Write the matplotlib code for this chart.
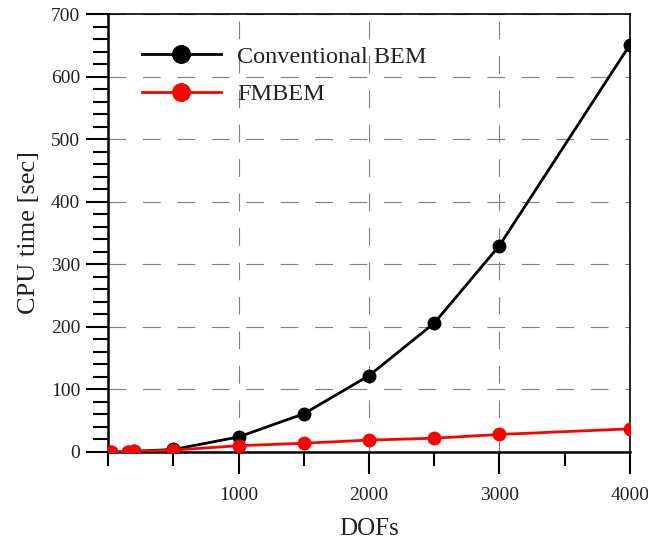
import numpy as np
import matplotlib
matplotlib.use('Agg')
import matplotlib.pyplot as plt
from matplotlib.ticker import MultipleLocator

plt.rcParams['font.family'] = ['Liberation Serif', 'DejaVu Serif']

# DOFs and CPU time [sec]
dofs = [20, 150, 200, 500, 1000, 1500, 2000, 2500, 3000, 4000]
bem_time = [0, 0.5, 1, 4, 24, 61, 122, 206, 330, 651]
fmbem_time = [0, 0.5, 1, 3, 10, 14, 19, 22, 28, 37]

fig = plt.figure(figsize=(6.48, 5.47), dpi=100)
ax = fig.add_axes([0.1667, 0.1737, 0.8055, 0.8007])

ax.plot(dofs, bem_time, color='black', lw=2, marker='o', ms=9, label='Conventional BEM', zorder=3)
ax.plot(dofs, fmbem_time, color='red', lw=2, marker='o', ms=9, label='FMBEM', zorder=4)

ax.set_xlim(0, 4000)
ax.set_ylim(0, 700)
ax.xaxis.set_major_locator(MultipleLocator(1000))
ax.xaxis.set_minor_locator(MultipleLocator(500))
ax.yaxis.set_major_locator(MultipleLocator(100))
ax.yaxis.set_minor_locator(MultipleLocator(20))

ax.set_xticks([1000, 2000, 3000, 4000])
ax.tick_params(axis='both', which='major', direction='out', labelsize=14, width=1.5,
               colors='black', labelcolor='#222222')
ax.tick_params(axis='x', which='major', length=16, pad=9)
ax.tick_params(axis='x', which='minor', direction='out', length=10, width=1.5)
ax.tick_params(axis='y', which='major', length=16, pad=4)
ax.tick_params(axis='y', which='minor', direction='out', length=11, width=1.5)

for sp in ['left', 'bottom']:
    ax.spines[sp].set_linewidth(1.8)
for sp in ['top', 'right']:
    ax.spines[sp].set_linewidth(1.2)

ax.grid(True, which='major', color='gray', linestyle=(0, (16, 15)), linewidth=0.8)
ax.set_axisbelow(True)

ax.set_xlabel('DOFs', fontsize=18, labelpad=10, color='#222222')
ax.set_ylabel('CPU time [sec]', fontsize=19, labelpad=8, color='#222222')

leg = ax.legend(loc='upper left', frameon=False, fontsize=17.5, handlelength=3.25,
                bbox_to_anchor=(0.023, 0.977), labelspacing=0.62, handletextpad=0.66,
                markerscale=1.4)
for t in leg.get_texts():
    t.set_color('#222222')

fig.savefig('out.png', dpi=100)
